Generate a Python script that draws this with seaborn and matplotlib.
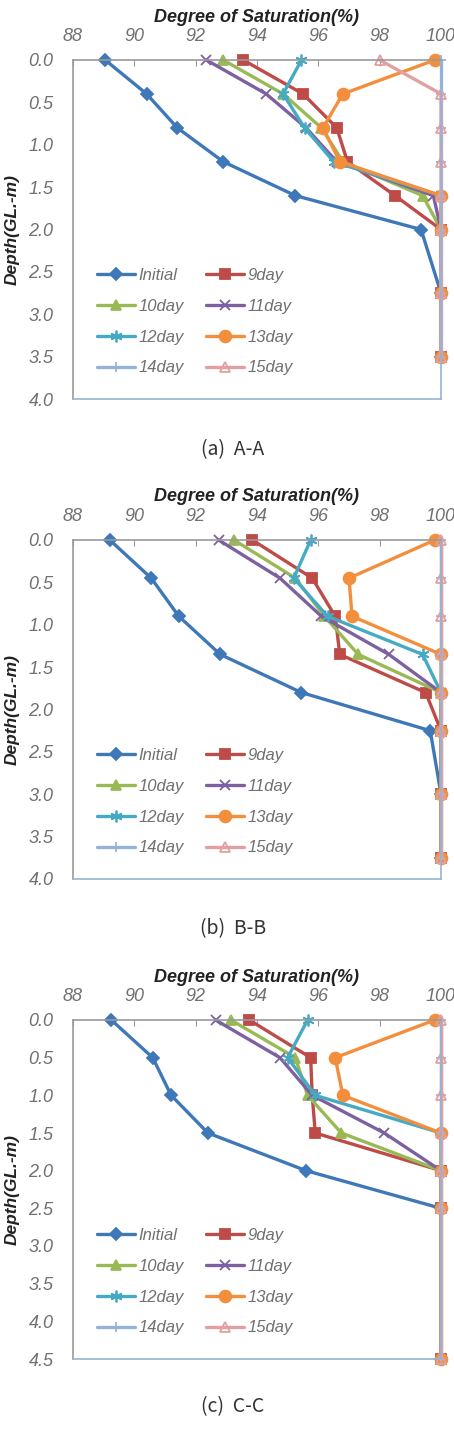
import matplotlib
matplotlib.use("Agg")
import matplotlib.pyplot as plt
import seaborn as sns
import pandas as pd

# ---------------- data ----------------
series_names = ["Initial", "9day", "10day", "11day", "12day", "13day", "14day", "15day"]

depth_a = [0.0, 0.4, 0.8, 1.2, 1.6, 2.0, 2.75, 3.5]
sat_a = {
    "Initial": [89.05, 90.4, 91.4, 92.9, 95.25, 99.35, 100, 100],
    "9day":    [93.55, 95.5, 96.6, 96.95, 98.5, 100, 100, 100],
    "10day":   [92.9, 94.85, 96.1, 96.8, 99.4, 100, 100, 100],
    "11day":   [92.35, 94.3, 95.6, 96.6, 99.75, 100, 100, 100],
    "12day":   [95.45, 94.85, 95.55, 96.5, 100, 100, 100, 100],
    "13day":   [99.8, 96.8, 96.15, 96.7, 100, 100, 100, 100],
    "14day":   [100, 100, 100, 100, 100, 100, 100, 100],
    "15day":   [98.0, 100, 100, 100, 100, 100, 100, 100],
}

depth_b = [0.0, 0.45, 0.9, 1.35, 1.8, 2.25, 3.0, 3.75]
sat_b = {
    "Initial": [89.2, 90.55, 91.45, 92.8, 95.45, 99.65, 100, 100],
    "9day":    [93.85, 95.8, 96.55, 96.7, 99.5, 100, 100, 100],
    "10day":   [93.25, 95.25, 96.2, 97.3, 100, 100, 100, 100],
    "11day":   [92.75, 94.75, 96.1, 98.3, 100, 100, 100, 100],
    "12day":   [95.75, 95.2, 96.3, 99.4, 100, 100, 100, 100],
    "13day":   [99.8, 97.0, 97.1, 100, 100, 100, 100, 100],
    "14day":   [100, 100, 100, 100, 100, 100, 100, 100],
    "15day":   [100, 100, 100, 100, 100, 100, 100, 100],
}

depth_c = [0.0, 0.5, 1.0, 1.5, 2.0, 2.5, 4.5]
sat_c = {
    "Initial": [89.25, 90.6, 91.2, 92.4, 95.6, 100, 100],
    "9day":    [93.75, 95.75, 95.8, 95.9, 100, 100, 100],
    "10day":   [93.15, 95.25, 95.65, 96.75, 100, 100, 100],
    "11day":   [92.65, 94.75, 95.8, 98.15, 100, 100, 100],
    "12day":   [95.65, 95.0, 95.9, 100, 100, 100, 100],
    "13day":   [99.8, 96.55, 96.8, 100, 100, 100, 100],
    "14day":   [100, 100, 100, 100, 100, 100, 100],
    "15day":   [100, 100, 100, 100, 100, 100, 100],
}

captions = ["(a)  A-A", "(b)  B-B", "(c)  C-C"]
y_max = [4.0, 4.0, 4.5]
x_ticks = [88, 90, 92, 94, 96, 98, 100]

# ---------------- styles ----------------
colors = {
    "Initial": "#3F78B8", "9day": "#BE4B48", "10day": "#98B954", "11day": "#7D60A0",
    "12day": "#46AAC5", "13day": "#F38F3C", "14day": "#95B3D7", "15day": "#E2A0A0",
}
markers = {
    "Initial": "D", "9day": "s", "10day": "^", "11day": "x",
    "12day": (6, 2, 0), "13day": "o", "14day": "+", "15day": "^",
}
msizes = {
    "Initial": 6.5, "9day": 7, "10day": 7.5, "11day": 7.5,
    "12day": 8.5, "13day": 8.5, "14day": 7.5, "15day": 7.5,
}

sns.set_theme(style="white")
plt.rcParams["font.family"] = ["Liberation Sans", "DejaVu Sans"]

fig = plt.figure(figsize=(4.54, 14.42), dpi=100)
W, H = 454.0, 1442.0
ax_left, ax_right = 73, 441
tops = [60, 540, 1020]
bottoms = [399, 879, 1359]
cap_y = [450, 929, 1407]

panels = [(depth_a, sat_a), (depth_b, sat_b), (depth_c, sat_c)]
# legend order so that rows read: Initial/9day, 10day/11day, 12day/13day, 14day/15day
leg_order = ["Initial", "10day", "12day", "14day", "9day", "11day", "13day", "15day"]

for i, (depths, sats) in enumerate(panels):
    ax = fig.add_axes([ax_left / W, 1 - bottoms[i] / H,
                       (ax_right - ax_left) / W, (bottoms[i] - tops[i]) / H])
    for name in series_names:
        df = pd.DataFrame({"sat": sats[name], "depth": depths})
        mfc = "none" if name == "15day" else colors[name]
        sns.lineplot(data=df, x="sat", y="depth", sort=False, estimator=None,
                     ax=ax, color=colors[name], lw=2.4, marker=markers[name],
                     markersize=msizes[name], markerfacecolor=mfc,
                     markeredgecolor=colors[name], markeredgewidth=1.3,
                     label=name, clip_on=False)
    ax.set_xlim(88, 100)
    ax.set_ylim(y_max[i], 0)
    ax.set_xticks(x_ticks)
    yt = [k * 0.5 for k in range(int(y_max[i] / 0.5) + 1)]
    ax.set_yticks(yt)
    ax.set_yticklabels([f"{v:.1f}" for v in yt])
    ax.xaxis.tick_top()
    ax.xaxis.set_label_position("top")
    ax.tick_params(axis="x", which="both", top=True, bottom=False, direction="in",
                   length=4, width=0.8, color="#999999", pad=11,
                   labelsize=13, labelcolor="#707070")
    ax.tick_params(axis="y", left=True, length=0, pad=14,
                   labelsize=13, labelcolor="#707070")
    for lab in ax.get_xticklabels() + ax.get_yticklabels():
        lab.set_fontstyle("italic")
    for s in ["top", "left"]:
        ax.spines[s].set_color("#9A9A9A")
        ax.spines[s].set_linewidth(1.2)
    for s in ["right", "bottom"]:
        ax.spines[s].set_color("#95B3D7")
        ax.spines[s].set_linewidth(1.2)
    ax.set_xlabel("Degree of Saturation(%)", fontsize=13, fontweight="bold",
                  fontstyle="italic", color="#222222")
    ax.xaxis.set_label_coords(0.5, 1 + 43 / 339)
    ax.xaxis.label.set_va("center")
    ax.set_ylabel("Depth(GL.-m)", fontsize=12.5, fontweight="bold",
                  fontstyle="italic", color="#222222")
    ax.yaxis.set_label_coords((12 - ax_left) / (ax_right - ax_left), 0.5)
    ax.yaxis.label.set_va("center")
    ax.grid(False)

    handles, labels = ax.get_legend_handles_labels()
    hmap = dict(zip(labels, handles))
    leg = ax.legend([hmap[n] for n in leg_order], leg_order,
                    loc="center left", bbox_to_anchor=(24 / 368, 1 - 0.772),
                    ncol=2, frameon=False, fontsize=12, borderpad=0,
                    borderaxespad=0, handlelength=2.3, handletextpad=0.2,
                    columnspacing=1.3, labelspacing=0.95)
    for t in leg.get_texts():
        t.set_fontstyle("italic")
        t.set_color("#707070")

    fig.text(233 / W, 1 - cap_y[i] / H, captions[i], ha="center", va="center",
             fontsize=14, color="#333333", family=["Noto Sans CJK KR", "DejaVu Sans"])

fig.savefig("out.png", dpi=100)
